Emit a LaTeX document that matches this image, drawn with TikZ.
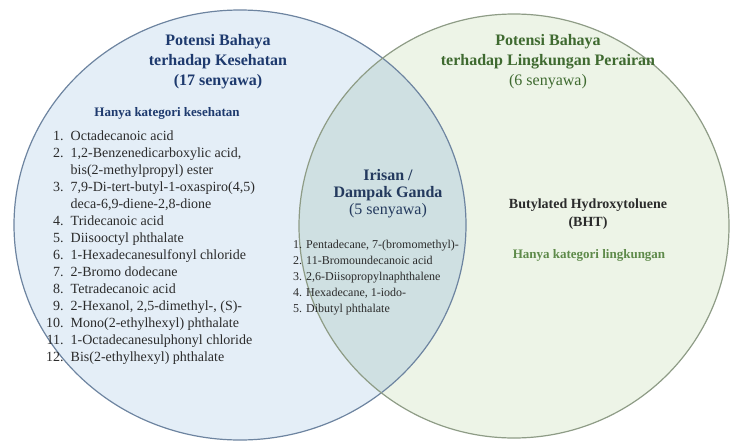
\documentclass[tikz,border=0pt]{standalone}
\usepackage{fontspec}
\setmainfont{Liberation Serif}
\usepackage{xcolor}
\usepackage{tikz}
\usetikzlibrary{positioning}
\definecolor{healthfill}{HTML}{E4EEF7}
\definecolor{waterfill}{HTML}{EDF4E7}
\definecolor{bothfill}{HTML}{CFE0E2}
\definecolor{healthline}{HTML}{6D84A0}
\definecolor{waterline}{HTML}{8E9C86}
\definecolor{healthink}{HTML}{1E3A6E}
\definecolor{bothink}{HTML}{243A5E}
\definecolor{waterink}{HTML}{3F6A30}
\definecolor{waterlite}{HTML}{5E8A4A}
\definecolor{ink}{HTML}{2B2B2B}

\begin{document}
\begin{tikzpicture}[x=1pt, y=-1pt,
  head/.style={align=center, inner sep=0pt, font=\fontsize{16}{20}\selectfont\bfseries},
  tag/.style={align=center, inner sep=0pt, font=\fontsize{13}{17}\selectfont\bfseries},
  items/.style={inner sep=0pt, anchor=north west, text=ink, font=\fontsize{14}{17}\selectfont},
  smallitems/.style={items, font=\fontsize{12}{16}\selectfont}]
  \useasboundingbox (0,0) rectangle (730,442);
  \fill[healthfill] (240,225) ellipse [x radius=226, y radius=215];
  \fill[waterfill] (514,226) ellipse [x radius=215, y radius=212];
  \begin{scope}
    \clip (240,225) ellipse [x radius=226, y radius=215];
    \fill[bothfill] (514,226) ellipse [x radius=215, y radius=212];
  \end{scope}
  \draw[healthline, line width=1.2pt] (240,225) ellipse [x radius=226, y radius=215];
  \draw[waterline, line width=1.2pt] (514,226) ellipse [x radius=215, y radius=212];

  \node[head, text=healthink] (healthhead) at (218,62) {Potensi Bahaya\\terhadap Kesehatan\\(17 senyawa)};
  \node[tag, text=healthink] (healthtag) at (167,113) {Hanya kategori kesehatan};
  \node[items] (healthlist) at (46,128) {\begin{tabular}{@{}r@{\hspace{7pt}}l@{}}
    1. & Octadecanoic acid\\
    2. & 1,2-Benzenedicarboxylic acid,\\
       & bis(2-methylpropyl) ester\\
    3. & 7,9-Di-tert-butyl-1-oxaspiro(4,5)\\
       & deca-6,9-diene-2,8-dione\\
    4. & Tridecanoic acid\\
    5. & Diisooctyl phthalate\\
    6. & 1-Hexadecanesulfonyl chloride\\
    7. & 2-Bromo dodecane\\
    8. & Tetradecanoic acid\\
    9. & 2-Hexanol, 2,5-dimethyl-, (S)-\\
    10. & Mono(2-ethylhexyl) phthalate\\
    11. & 1-Octadecanesulphonyl chloride\\
    12. & Bis(2-ethylhexyl) phthalate
  \end{tabular}};

  \node[head, text=bothink, font=\fontsize{16}{17}\selectfont\bfseries] (bothhead) at (388,194) {Irisan /\\Dampak Ganda\\\normalfont(5 senyawa)};
  \node[smallitems] (bothlist) at (293,237) {\begin{tabular}{@{}r@{\hspace{4pt}}l@{}}
    1. & Pentadecane, 7-(bromomethyl)-\\
    2. & 11-Bromoundecanoic acid\\
    3. & 2,6-Diisopropylnaphthalene\\
    4. & Hexadecane, 1-iodo-\\
    5. & Dibutyl phthalate
  \end{tabular}};

  \node[head, text=waterink] (waterhead) at (548,62) {Potensi Bahaya\\terhadap Lingkungan Perairan\\\normalfont(6 senyawa)};
  \node[tag, text=ink, font=\fontsize{14}{18}\selectfont\bfseries] (bht) at (588,214) {Butylated Hydroxytoluene\\(BHT)};
  \node[tag, text=waterlite] (watertag) at (589,255) {Hanya kategori lingkungan};
\end{tikzpicture}
\end{document}
